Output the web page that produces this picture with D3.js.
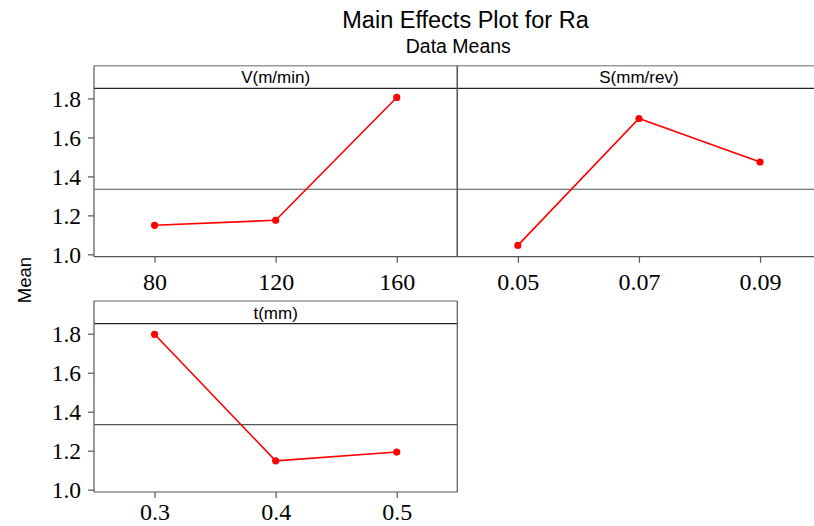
<!DOCTYPE html>
<html>
<head>
<meta charset="utf-8">
<script src="https://cdn.jsdelivr.net/npm/d3@7"></script>
<style>
  html, body { margin: 0; padding: 0; background: #fff; overflow: hidden; }
  svg { display: block; }
</style>
</head>
<body>
<svg id="chart" width="814" height="526"></svg>
<script>
// ---- data ----
const title = "Main Effects Plot for Ra";
const subtitle = "Data Means";
const yLabel = "Mean";
const grandMean = 1.334;
const yTicks = [1.0, 1.2, 1.4, 1.6, 1.8];

const factorNames = ["V(m/min)", "S(mm/rev)", "t(mm)"];
const vLevels = ["80", "120", "160"];
const vMeans = [1.149, 1.175, 1.805];
const sLevels = ["0.05", "0.07", "0.09"];
const sMeans = [1.046, 1.697, 1.474];
const tLevels = ["0.3", "0.4", "0.5"];
const tMeans = [1.797, 1.148, 1.193];

const panels = [
  { name: factorNames[0], levels: vLevels, means: vMeans, col: 0, row: 0 },
  { name: factorNames[1], levels: sLevels, means: sMeans, col: 1, row: 0 },
  { name: factorNames[2], levels: tLevels, means: tMeans, col: 0, row: 1 }
];

// ---- layout ----
const svg = d3.select("#chart");
const panelLeft = 94, panelW = 363.3;
const rowTop = [65.7, 301];     // top of strip
const rowLabelPad = [10, 5];    // x tick label padding per row
const stripH = 22.6;
const plotH = 168.4;
const yDomain = [0.988, 1.852];
const sans = "'Liberation Sans', Arial, sans-serif";
const serif = "'Liberation Serif', 'Times New Roman', serif";

svg.append("text")
  .attr("x", 465.5).attr("y", 28.3)
  .attr("text-anchor", "middle")
  .style("font-family", sans)
  .style("font-size", "23.5px")
  .attr("fill", "#000")
  .text(title);

svg.append("text")
  .attr("x", 458.3).attr("y", 52.7)
  .attr("text-anchor", "middle")
  .style("font-family", sans)
  .style("font-size", "19.5px")
  .attr("fill", "#000")
  .text(subtitle);

svg.append("text")
  .attr("transform", "translate(30.5,280) rotate(-90)")
  .attr("text-anchor", "middle")
  .style("font-family", sans)
  .style("font-size", "18.5px")
  .attr("fill", "#000")
  .text(yLabel);

panels.forEach(p => {
  const x0 = panelLeft + p.col * panelW;
  const top = rowTop[p.row];
  const plotTop = top + stripH;
  const plotBottom = plotTop + plotH;

  const g = svg.append("g");

  const x = d3.scalePoint().domain(p.levels).range([x0, x0 + panelW]).padding(0.5);
  const y = d3.scaleLinear().domain(yDomain).range([plotBottom, plotTop]);

  // reference line (grand mean)
  g.append("line")
    .attr("x1", x0).attr("x2", x0 + panelW)
    .attr("y1", y(grandMean)).attr("y2", y(grandMean))
    .attr("stroke", "#555").attr("stroke-width", 1.2);

  // strip bottom line
  g.append("line")
    .attr("x1", x0).attr("x2", x0 + panelW)
    .attr("y1", plotTop).attr("y2", plotTop)
    .attr("stroke", "#222").attr("stroke-width", 1.2);

  // frame: top (light grey)
  g.append("line")
    .attr("x1", x0).attr("x2", x0 + panelW)
    .attr("y1", top).attr("y2", top)
    .attr("stroke", "#9a9a9a").attr("stroke-width", 1.5);
  // left, right
  g.append("line")
    .attr("x1", x0).attr("x2", x0)
    .attr("y1", top).attr("y2", plotBottom)
    .attr("stroke", "#555").attr("stroke-width", 1.2);
  g.append("line")
    .attr("x1", x0 + panelW).attr("x2", x0 + panelW)
    .attr("y1", top).attr("y2", plotBottom)
    .attr("stroke", "#555").attr("stroke-width", 1.2);
  // bottom
  g.append("line")
    .attr("x1", x0).attr("x2", x0 + panelW)
    .attr("y1", plotBottom).attr("y2", plotBottom)
    .attr("stroke", "#555").attr("stroke-width", 1.2);

  // strip label
  g.append("text")
    .attr("x", x0 + panelW / 2).attr("y", plotTop - 5)
    .attr("text-anchor", "middle")
    .style("font-family", sans)
    .style("font-size", "17px")
    .attr("fill", "#000")
    .text(p.name);

  // x axis
  const xa = g.append("g")
    .attr("transform", `translate(0,${plotBottom})`)
    .call(d3.axisBottom(x).tickSize(6).tickPadding(rowLabelPad[p.row]));
  xa.select(".domain").remove();
  xa.selectAll(".tick line").attr("stroke", "#555").attr("stroke-width", 1.2);
  xa.selectAll(".tick text")
    .style("font-family", serif)
    .style("font-size", "24px")
    .attr("fill", "#000");

  // y axis only on left column
  if (p.col === 0) {
    const ya = g.append("g")
      .attr("transform", `translate(${x0},0)`)
      .call(d3.axisLeft(y).tickValues(yTicks).tickFormat(d3.format(".1f")).tickSize(6).tickPadding(7));
    ya.select(".domain").remove();
    ya.selectAll(".tick line").attr("stroke", "#555").attr("stroke-width", 1.2);
    ya.selectAll(".tick text")
      .attr("dy", "0.33em")
      .style("font-family", serif)
      .style("font-size", "23.5px")
      .attr("fill", "#000");
  }

  // data line
  const pts = p.levels.map((l, i) => [l, p.means[i]]);
  g.append("path")
    .datum(pts)
    .attr("fill", "none")
    .attr("stroke", "#ff0000")
    .attr("stroke-width", 1.6)
    .attr("d", d3.line().x(d => x(d[0])).y(d => y(d[1])));

  g.selectAll("circle.pt")
    .data(pts)
    .join("circle")
    .attr("class", "pt")
    .attr("cx", d => x(d[0]))
    .attr("cy", d => y(d[1]))
    .attr("r", 3.6)
    .attr("fill", "#ff0000");
});
</script>
</body>
</html>
